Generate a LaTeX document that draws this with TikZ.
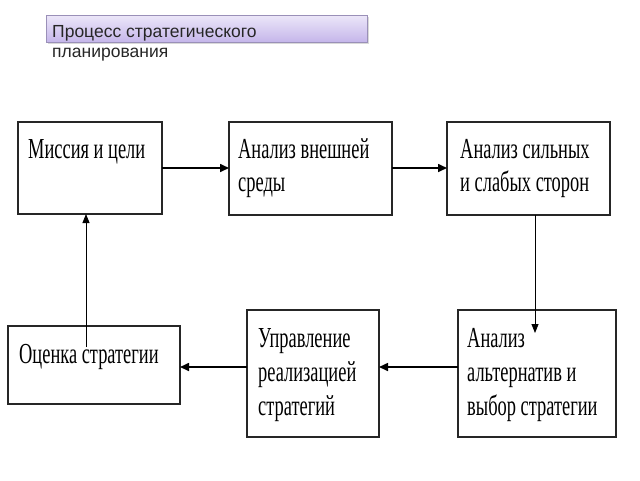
\documentclass[tikz,border=0pt]{standalone}
\usepackage{fontspec}
\setmainfont{Liberation Serif}
\newfontfamily\boxfont[FakeStretch=0.635]{Liberation Serif}
\newfontfamily\titlefont{Liberation Sans}
\usetikzlibrary{arrows.meta,shadows}
\definecolor{ttltop}{HTML}{ECE7F9}
\definecolor{ttlbot}{HTML}{C5B6EA}
\definecolor{ttlline}{HTML}{9A90B8}
\begin{document}
\begin{tikzpicture}[x=1pt,y=-1pt,
  box/.style={draw=black!85,line width=1.2pt,rectangle,inner sep=0pt,outer sep=0pt},
  lbl/.style={anchor=base west,inner sep=0pt,font=\boxfont\fontsize{29}{34}\selectfont,text=black},
  ttl/.style={anchor=base west,inner sep=0pt,font=\titlefont\fontsize{17.5}{20}\selectfont,text=black!85},
  thick arrow/.style={line width=1.6pt,-{Triangle[length=9pt,width=8pt]}},
  thin arrow/.style={line width=0.8pt,-{Triangle[length=9pt,width=7pt]}}]
\useasboundingbox (0,0) rectangle (640,480);
% title
\node[draw=ttlline,line width=0.9pt,top color=ttltop,bottom color=ttlbot,
  drop shadow={opacity=0.3,shadow xshift=1.5pt,shadow yshift=-1.5pt},
  minimum width=321pt,minimum height=27pt,inner sep=0pt] (title) at (206.5,28.5) {};
\node[ttl] (t1) at (52,37) {Процесс стратегического};
\node[ttl] (t2) at (52,57) {планирования};
% boxes
\node[box,minimum width=144pt,minimum height=92pt] (b1) at (90,168) {};
\node[box,minimum width=163pt,minimum height=93pt] (b2) at (310.5,168.5) {};
\node[box,minimum width=163pt,minimum height=93pt] (b3) at (528.5,168.5) {};
\node[box,minimum width=172pt,minimum height=78pt] (b4) at (94,365) {};
\node[box,minimum width=132pt,minimum height=127pt] (b5) at (313,373.5) {};
\node[box,minimum width=158pt,minimum height=127pt] (b6) at (537,373.5) {};
% texts
\node[lbl] (l1) at (28,158) {Миссия и цели};
\node[lbl] (l2a) at (238,158) {Анализ внешней};
\node[lbl] (l2b) at (238,191) {среды};
\node[lbl] (l3a) at (460,158) {Анализ сильных};
\node[lbl] (l3b) at (460,191) {и слабых сторон};
\node[lbl] (l4) at (19,363) {Оценка стратегии};
\node[lbl] (l5a) at (258,347) {Управление};
\node[lbl] (l5b) at (258,381) {реализацией};
\node[lbl] (l5c) at (258,415) {стратегий};
\node[lbl] (l6a) at (467,347) {Анализ};
\node[lbl] (l6b) at (467,381) {альтернатив и};
\node[lbl] (l6c) at (467,415) {выбор стратегии};
% connectors
\coordinate (c36) at (535,333);
\coordinate (c41) at (86,347);
\draw[thick arrow] (b1.east) -- (b2.west |- b1.east);
\draw[thick arrow] (b2.east |- b1.east) -- (b3.west |- b1.east);
\draw[thin arrow] (c36 |- b3.south) -- (c36);
\draw[thick arrow] (b6.west |- 0,367) -- (b5.east |- 0,367);
\draw[thick arrow] (b5.west |- 0,367) -- (b4.east |- 0,367);
\draw[thin arrow] (c41) -- (c41 |- b1.south);
\end{tikzpicture}
\end{document}
